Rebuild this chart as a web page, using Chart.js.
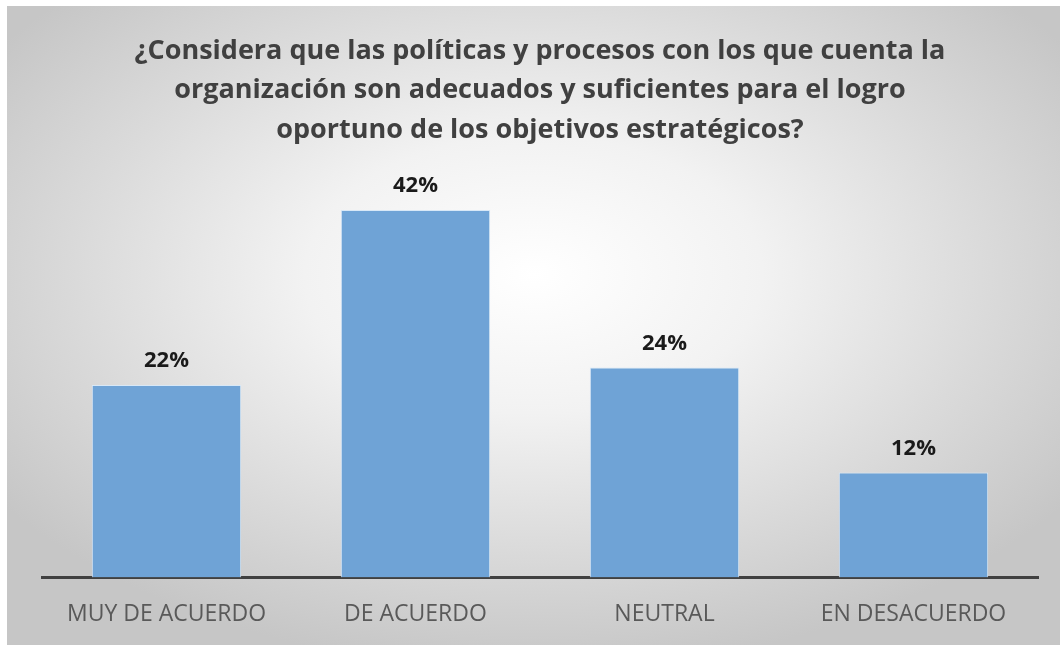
<!DOCTYPE html>
<html>
<head>
<meta charset="utf-8">
<script src="https://cdn.jsdelivr.net/npm/chart.js@4"></script>
<style>
  html, body { margin: 0; padding: 0; background: #fff; }
  #wrap {
    position: absolute; left: 7px; top: 6px; width: 1053px; height: 639px;
    background: radial-gradient(ellipse 62% 62% at 50% 42%, #ffffff 0%, #f2f2f2 35%, #dadada 70%, #c6c6c6 100%);
  }
  canvas { display: block; }
</style>
</head>
<body>
<div id="wrap"><canvas id="chart" width="1053" height="639"></canvas></div>
<script>
const categories = ['MUY DE ACUERDO', 'DE ACUERDO', 'NEUTRAL', 'EN DESACUERDO'];
const percentages = [22, 42, 24, 12];
const titleLines = [
  '¿Considera que las políticas y procesos con los que cuenta la',
  'organización son adecuados y suficientes para el logro',
  'oportuno de los objetivos estratégicos?'
];

// value labels drawn above each bar
const barLabels = {
  id: 'barLabels',
  afterDatasetsDraw(chart) {
    const ctx = chart.ctx;
    const meta = chart.getDatasetMeta(0);
    ctx.save();
    ctx.font = 'bold 22px "Open Sans"';
    ctx.fillStyle = '#1a1a1a';
    ctx.textAlign = 'center';
    ctx.textBaseline = 'middle';
    meta.data.forEach((bar, i) => {
      ctx.fillText(percentages[i] + '%', bar.x, bar.y - 24);
    });
    ctx.restore();
  }
};

new Chart(document.getElementById('chart'), {
  type: 'bar',
  data: {
    labels: categories,
    datasets: [{
      data: percentages,
      backgroundColor: '#6fa3d6',
      borderColor: '#d8e8f7',
      borderWidth: 1,
      categoryPercentage: 1,
      barPercentage: 0.6
    }]
  },
  options: {
    responsive: false,
    animation: false,
    layout: { padding: { left: 35, right: 22, top: 0, bottom: -6 } },
    plugins: {
      legend: { display: false },
      tooltip: { enabled: false },
      title: {
        display: true,
        text: titleLines,
        color: '#404040',
        font: { family: 'Open Sans', size: 27, weight: 'bold', lineHeight: 1.45 },
        padding: { top: 26, bottom: 43 }
      }
    },
    scales: {
      x: {
        grid: { display: false, drawTicks: false },
        border: { color: '#404040', width: 3 },
        ticks: {
          color: '#595959',
          font: { family: 'Open Sans', size: 23 },
          padding: 23,
          maxRotation: 0
        }
      },
      y: {
        display: false,
        min: 0,
        max: 44
      }
    }
  },
  plugins: [barLabels]
});
</script>
</body>
</html>
